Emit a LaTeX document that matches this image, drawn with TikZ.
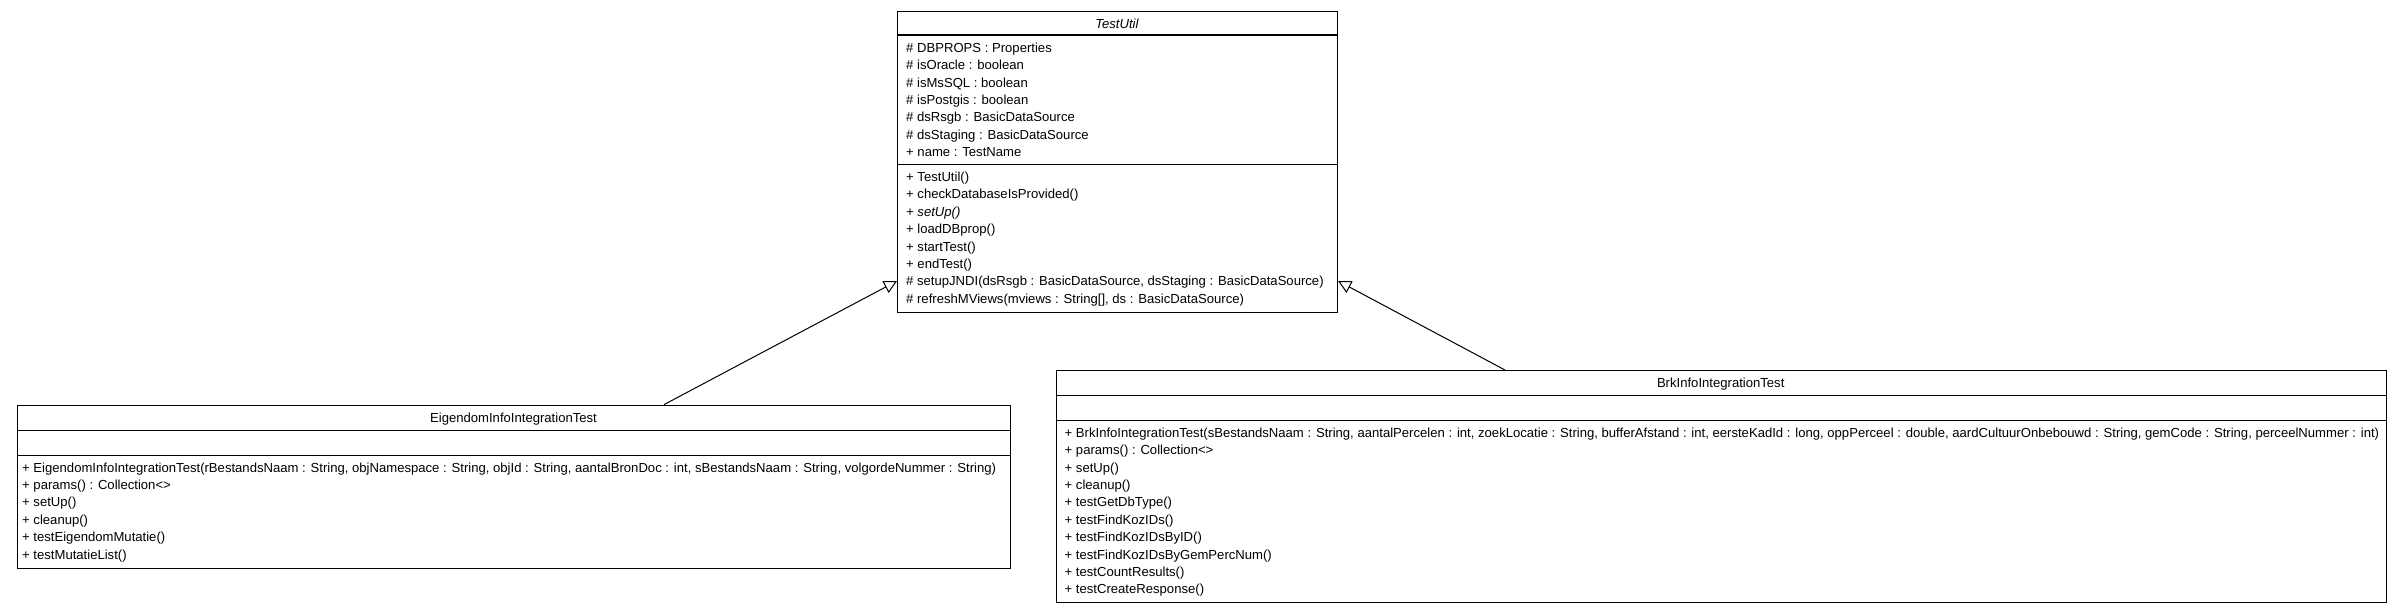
\documentclass[tikz,border=0pt]{standalone}
\usepackage{fontspec}
\setmainfont{Liberation Sans}
\usetikzlibrary{arrows.meta}

\begin{document}
\begin{tikzpicture}[x=1pt, y=-1pt,
  classbox/.style={draw, line width=1.1pt, anchor=north west, inner sep=0pt},
  member/.style={anchor=base west, inner sep=0pt, font=\fontsize{13.1}{17.4}\selectfont},
  classname/.style={anchor=base, inner sep=0pt, font=\fontsize{13.1}{17.4}\selectfont},
  extends/.style={line width=1pt, -{Triangle[open, length=13pt, width=13pt]}}]
\useasboundingbox (0,0) rectangle (2402,613);
% Boxes
\node[classbox, minimum width=440pt, minimum height=300.5pt] (testutil) at (897,11) {};
\node[classbox, minimum width=993pt, minimum height=163pt] (eigendom) at (17,404.6) {};
\node[classbox, minimum width=1330.5pt, minimum height=232pt] (brk) at (1055.5,370) {};
% Lines
\draw[line width=1.3pt] ([yshift=-24pt]testutil.north west) -- ([yshift=-24pt]testutil.north east);
\draw[line width=1.3pt] ([yshift=-153.7pt]testutil.north west) -- ([yshift=-153.7pt]testutil.north east);
\draw[line width=1.3pt] ([yshift=-26pt]eigendom.north west) -- ([yshift=-26pt]eigendom.north east);
\draw[line width=1.3pt] ([yshift=-50.9pt]eigendom.north west) -- ([yshift=-50.9pt]eigendom.north east);
\draw[line width=1.3pt] ([yshift=-25.5pt]brk.north west) -- ([yshift=-25.5pt]brk.north east);
\draw[line width=1.3pt] ([yshift=-50.7pt]brk.north west) -- ([yshift=-50.7pt]brk.north east);
% Nodes
\node[classname] (testutil-name) at (1117,28) {\textit{TestUtil}};
\foreach \txt [count=\i] in {{\# DBPROPS : Properties}, {\# isOracle : boolean},
    {\# isMsSQL : boolean}, {\# isPostgis : boolean}, {\# dsRsgb : BasicDataSource},
    {\# dsStaging : BasicDataSource}, {+ name : TestName}}
  \node[member] (testutil-a\i) at (906,{52.3+(\i-1)*17.4}) {\txt};
\foreach \txt [count=\i] in {{+ TestUtil()}, {+ checkDatabaseIsProvided()}, {\textit{+ setUp()}},
    {+ loadDBprop()}, {+ startTest()}, {+ endTest()},
    {\# setupJNDI(dsRsgb : BasicDataSource, dsStaging : BasicDataSource)},
    {\# refreshMViews(mviews : String[], ds : BasicDataSource)}}
  \node[member] (testutil-m\i) at (906,{181.5+(\i-1)*17.4}) {\txt};
\node[classname] (eigendom-name) at (513.5,422.3) {EigendomInfoIntegrationTest};
\foreach \txt [count=\i] in {{+ EigendomInfoIntegrationTest(rBestandsNaam : String, objNamespace : String, objId : String, aantalBronDoc : int, sBestandsNaam : String, volgordeNummer : String)},
    {+ params() : Collection<>}, {+ setUp()}, {+ cleanup()},
    {+ testEigendomMutatie()}, {+ testMutatieList()}}
  \node[member] (eigendom-m\i) at (22,{472+(\i-1)*17.4}) {\txt};
\node[classname] (brk-name) at (1720.7,387.5) {BrkInfoIntegrationTest};
\foreach \txt [count=\i] in {{+ BrkInfoIntegrationTest(sBestandsNaam : String, aantalPercelen : int, zoekLocatie : String, bufferAfstand : int, eersteKadId : long, oppPerceel : double, aardCultuurOnbebouwd : String, gemCode : String, perceelNummer : int)},
    {+ params() : Collection<>}, {+ setUp()}, {+ cleanup()}, {+ testGetDbType()},
    {+ testFindKozIDs()}, {+ testFindKozIDsByID()}, {+ testFindKozIDsByGemPercNum()},
    {+ testCountResults()}, {+ testCreateResponse()}}
  \node[member] (brk-m\i) at (1064.5,{437.2+(\i-1)*17.4}) {\txt};
% Generalization
\draw[extends] ([xshift=647pt]eigendom.north west) -- ([yshift=-270pt]testutil.north west);
\draw[extends] ([xshift=449.5pt]brk.north west) -- ([yshift=-270pt]testutil.north east);
\end{tikzpicture}
\end{document}
